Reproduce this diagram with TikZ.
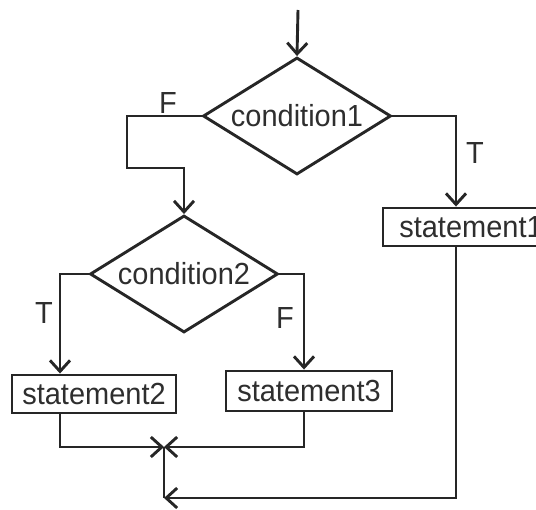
\documentclass[tikz,border=0pt]{standalone}
\usepackage{fontspec}
\setmainfont{Liberation Sans}[FakeStretch=0.95]
\usetikzlibrary{shapes.geometric,arrows.meta}
\begin{document}
\begin{tikzpicture}[x=1pt,y=-1pt,
  line width=2.9pt,
  black!85,
  txt/.style={font=\fontsize{30.5}{35}\selectfont, text=black!82},
  cond/.style={diamond, draw, inner sep=0pt,
    minimum width=188pt, minimum height=117pt, aspect=1.6, txt},
  stmt/.style={rectangle, draw, inner sep=0pt,
    minimum height=38pt, txt},
  lbl/.style={txt, inner sep=0pt},
  arr/.style={-{Straight Barb[length=11pt,width=20pt]}}]
\useasboundingbox (0,0) rectangle (536,510);
\clip (0,0) rectangle (536,510);

\coordinate (top) at (298,10);
\node[cond] (c1) at (297,116) {condition1};
\node[cond] (c2) at (184,274) {condition2};
\node[stmt, minimum width=176pt] (s1) at (471,227) {statement1};
\node[stmt, minimum width=164pt] (s2) at (94,394) {statement2};
\node[stmt, minimum width=166pt, minimum height=40pt] (s3) at (309,391) {statement3};

\coordinate (s1x) at (456,0);
\coordinate (tx) at (60,0);
\coordinate (fx) at (304,0);
\coordinate (m) at (164,447);
\coordinate (b) at (164,498);

\draw[arr] (top) -- (c1.north);
\draw[arr] (c1.west) -| (127,168) -| (c2.north);
\draw[arr] (c1.east) -| (s1x |- s1.north);
\draw[arr] (c2.west) -| (tx |- s2.north);
\draw[arr] (c2.east) -| (fx |- s3.north);
\draw[arr] (tx |- s2.south) |- (m);
\draw[arr] (fx |- s3.south) |- (m);
\draw (m) -- (b);
\draw[arr] (s1x |- s1.south) |- (b);

\node[lbl] (lf1) at (168,103) {F};
\node[lbl] (lt1) at (475,153) {T};
\node[lbl] (lt2) at (44,313) {T};
\node[lbl] (lf2) at (285,318) {F};
\end{tikzpicture}
\end{document}
